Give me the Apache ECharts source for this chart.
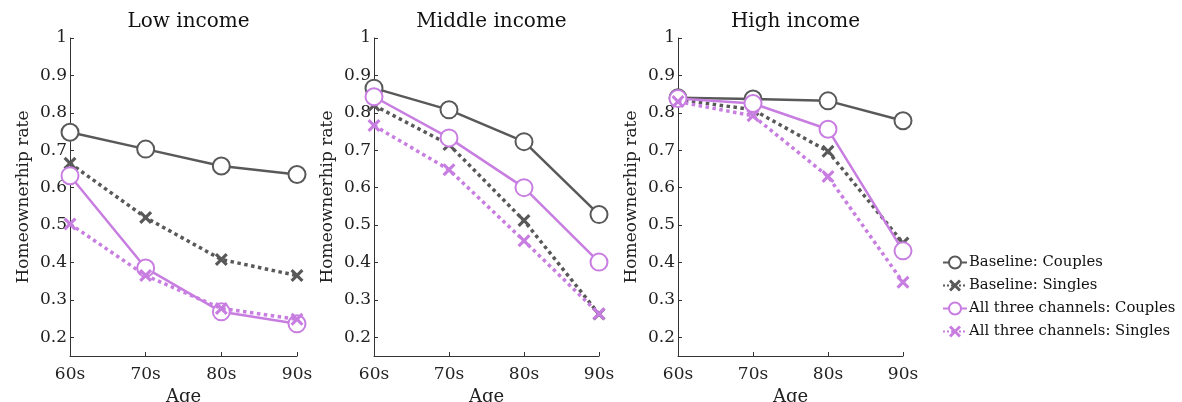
<!DOCTYPE html>
<html><head><meta charset="utf-8">
<script src="https://cdn.jsdelivr.net/npm/echarts@6/dist/echarts.min.js"></script>
<style>html,body{margin:0;padding:0;background:#fff}#c{width:1182px;height:402px}</style>
</head><body><div id="c"></div>
<script>
const categories = ['60s','70s','80s','90s'];
const panelTitles = ['Low income','Middle income','High income'];
const seriesNames = ['Baseline: Couples','Baseline: Singles','All three channels: Couples','All three channels: Singles'];
const yTicks = [0.2,0.3,0.4,0.5,0.6,0.7,0.8,0.9,1];
// Low income
const lowBaseCouples = [0.748,0.703,0.658,0.635];
const lowBaseSingles = [0.665,0.520,0.408,0.365];
const lowAllCouples  = [0.632,0.385,0.268,0.236];
const lowAllSingles  = [0.503,0.365,0.277,0.248];
// Middle income
const midBaseCouples = [0.866,0.808,0.723,0.528];
const midBaseSingles = [0.820,0.715,0.512,0.262];
const midAllCouples  = [0.843,0.733,0.600,0.401];
const midAllSingles  = [0.766,0.648,0.458,0.263];
// High income
const highBaseCouples = [0.840,0.837,0.832,0.779];
const highBaseSingles = [0.836,0.808,0.697,0.452];
const highAllCouples  = [0.838,0.825,0.756,0.431];
const highAllSingles  = [0.830,0.792,0.630,0.347];

const panels = [
  [lowBaseCouples, lowBaseSingles, lowAllCouples, lowAllSingles],
  [midBaseCouples, midBaseSingles, midAllCouples, midAllSingles],
  [highBaseCouples, highBaseSingles, highAllCouples, highAllSingles]
];

const GRAY = '#595959', PURPLE = '#c87ee0';
const FONT = '"DejaVu Serif","Liberation Serif",serif';
const XSYM = 'path://M1.7,0 L5,3.3 L8.3,0 L10,1.7 L6.7,5 L10,8.3 L8.3,10 L5,6.7 L1.7,10 L0,8.3 L3.3,5 L0,1.7 Z';
const styles = [
  {color: GRAY, type: 'solid', sym: 'emptyCircle', size: 17},
  {color: GRAY, type: 'dotted', sym: XSYM, size: 13},
  {color: PURPLE, type: 'solid', sym: 'emptyCircle', size: 17},
  {color: PURPLE, type: 'dotted', sym: XSYM, size: 13}
];

const gridLefts = [70, 374, 678];
const gridWidths = [227, 225, 225];
const grids = [], xAxes = [], yAxes = [], series = [], titles = [];
panels.forEach((p, i) => {
  grids.push({left: gridLefts[i], width: gridWidths[i], top: 38, height: 318, outerBoundsMode: 'none', containLabel: false});
  titles.push({text: panelTitles[i], left: gridLefts[i] + gridWidths[i]/2, top: 7, textAlign: 'center',
    textStyle: {fontFamily: FONT, fontSize: 20, fontWeight: 'normal', color: '#111'}});
  xAxes.push({type: 'category', gridIndex: i, data: categories, boundaryGap: false,
    name: 'Age', nameLocation: 'middle', nameGap: 30,
    nameTextStyle: {fontFamily: FONT, fontSize: 18, color: '#222'},
    axisLine: {lineStyle: {color: '#333', width: 1}},
    axisTick: {inside: true, length: 4, lineStyle: {color: '#333'}},
    axisLabel: {fontFamily: FONT, fontSize: 17, color: '#222', margin: 10},
    splitLine: {show: false}});
  yAxes.push({type: 'value', gridIndex: i, min: 0.15, max: 1,
    name: 'Homeownerhip rate', nameLocation: 'middle', nameGap: 38,
    nameTextStyle: {fontFamily: FONT, fontSize: 17, color: '#222'},
    axisLine: {show: true, lineStyle: {color: '#333', width: 1}},
    axisTick: {show: true, inside: true, length: 4, customValues: yTicks, lineStyle: {color: '#333'}},
    axisLabel: {fontFamily: FONT, fontSize: 17, color: '#222', margin: 3, customValues: yTicks,
      formatter: v => (Math.round(v*10)/10).toString()},
    splitLine: {show: false}});
  p.forEach((vals, k) => {
    const s = styles[k];
    series.push({name: seriesNames[k], type: 'line', xAxisIndex: i, yAxisIndex: i, data: vals,
      symbol: s.sym, symbolSize: s.size, z: 2 + (k === 2 ? 2 : k),
      lineStyle: {color: s.color, width: s.type === 'dotted' ? 3.5 : 2.5, type: s.type},
      itemStyle: s.sym === 'emptyCircle' ? {color: s.color, borderColor: s.color, borderWidth: 2.8} : {color: s.color, borderWidth: 0},
      animation: false});
  });
});

const chart = echarts.init(document.getElementById('c'));
chart.setOption({
  animation: false,
  backgroundColor: '#fff',
  title: titles,
  grid: grids,
  xAxis: xAxes,
  yAxis: yAxes,
  legend: {data: seriesNames, orient: 'vertical', left: 937, top: 250, itemGap: 8, itemWidth: 24, itemHeight: 15,
    textStyle: {fontFamily: FONT, fontSize: 14.8, color: '#111', padding: [0,0,0,-3]}},
  series: series
});
</script></body></html>
